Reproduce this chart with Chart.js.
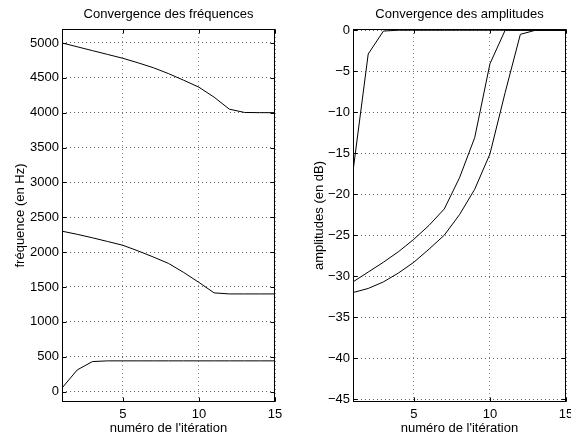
<!DOCTYPE html>
<html>
<head>
<meta charset="utf-8">
<script src="https://cdn.jsdelivr.net/npm/chart.js@4"></script>
<style>
  html, body { margin: 0; padding: 0; background: #fff; overflow: hidden; width: 571px; height: 440px; }
  #wrapL { position: absolute; left: 0; top: 0; width: 290px; height: 440px; }
  #wrapR { position: absolute; left: 290px; top: 0; width: 290px; height: 440px; }
</style>
</head>
<body>
<div id="wrapL"><canvas id="freqChart"></canvas></div>
<div id="wrapR"><canvas id="ampChart"></canvas></div>
<script>
// iterations 1..15
const iterations = [1, 2, 3, 4, 5, 6, 7, 8, 9, 10, 11, 12, 13, 14, 15];

// fréquences (Hz)
const freqHigh = [5000, 4945, 4890, 4835, 4780, 4715, 4645, 4560, 4465, 4365, 4222, 4050, 4003, 4000, 4000];
const freqMid  = [2300, 2255, 2205, 2152, 2098, 2017, 1930, 1838, 1708, 1565, 1415, 1400, 1400, 1400, 1400];
const freqLow  = [50, 310, 430, 440, 440, 440, 440, 440, 440, 440, 440, 440, 440, 440, 440];

// amplitudes (dB)
const ampFast = [-17.2, -2.9, -0.1, 0, 0, 0, 0, 0, 0, 0, 0, 0, 0, 0, 0];
const ampMid  = [-30.7, -29.5, -28.3, -27.0, -25.5, -23.8, -21.8, -18.0, -13.1, -4.1, 0, 0, 0, 0, 0];
const ampSlow = [-32.0, -31.5, -30.7, -29.6, -28.3, -26.7, -25.0, -22.5, -19.4, -15.1, -7.6, -0.5, 0, 0, 0];

const iterTicks = [5, 10, 15];
const freqTicks = [0, 500, 1000, 1500, 2000, 2500, 3000, 3500, 4000, 4500, 5000];
const ampTicks = [-45, -40, -35, -30, -25, -20, -15, -10, -5, 0];

Chart.defaults.font.family = '"Liberation Sans", Arial, Helvetica, sans-serif';
Chart.defaults.font.size = 13;
Chart.defaults.color = '#000';

// cadre + graduations vers l'intérieur (style matlab)
const boxPlugin = {
  id: 'box',
  afterDraw(chart) {
    const {ctx, chartArea: a, scales} = chart;
    const l = Math.round(a.left) + 0.5, r = Math.round(a.right) - 0.5;
    const t = Math.round(a.top) + 0.5, b = Math.round(a.bottom) - 0.5;
    ctx.save();
    ctx.strokeStyle = '#000';
    ctx.lineWidth = 1;
    ctx.strokeRect(l, t, r - l, b - t);
    ctx.beginPath();
    scales.x.ticks.forEach(tk => {
      const px = Math.round(scales.x.getPixelForValue(tk.value)) + 0.5;
      ctx.moveTo(px, b); ctx.lineTo(px, b - 4);
      ctx.moveTo(px, t); ctx.lineTo(px, t + 4);
    });
    scales.y.ticks.forEach(tk => {
      const py = Math.round(scales.y.getPixelForValue(tk.value)) + 0.5;
      ctx.moveTo(l, py); ctx.lineTo(l + 4, py);
      ctx.moveTo(r, py); ctx.lineTo(r - 4, py);
    });
    ctx.stroke();
    ctx.restore();
  }
};

function lineSet(data) {
  return {
    data: data,
    borderColor: '#000',
    borderWidth: 1,
    pointRadius: 0,
    tension: 0,
    fill: false
  };
}

function makeOptions(title, yTitle, yMin, yMax, yTicks, leftW, rightPad, yTitlePad) {
  return {
    responsive: true,
    maintainAspectRatio: false,
    animation: false,
    layout: { padding: { left: 0, right: rightPad, top: 0, bottom: 0 } },
    plugins: {
      legend: { display: false },
      tooltip: { enabled: false },
      title: {
        display: true,
        text: title,
        fullSize: false,
        font: { size: 13, weight: 'normal' },
        padding: { top: 7, bottom: 6.4 }
      }
    },
    scales: {
      x: {
        type: 'linear',
        min: 1,
        max: 15,
        afterBuildTicks: s => { s.ticks = iterTicks.map(v => ({ value: v })); },
        afterFit: s => { s.height = 38; },
        grid: { color: 'rgba(0,0,0,0.45)', drawTicks: false },
        border: { display: false, dash: [1, 3] },
        ticks: { padding: 5, maxRotation: 0 },
        title: { display: true, text: "numéro de l'itération", padding: { top: 0, bottom: 4 } }
      },
      y: {
        min: yMin,
        max: yMax,
        afterBuildTicks: s => { s.ticks = yTicks.map(v => ({ value: v })); },
        afterFit: s => { s.width = leftW; },
        grid: { color: 'rgba(0,0,0,0.6)', drawTicks: false },
        border: { display: false, dash: [1, 3] },
        ticks: { padding: 3, callback: v => String(v).replace('-', '\u2212') },
        title: { display: true, text: yTitle, padding: { top: yTitlePad, bottom: 0 } }
      }
    }
  };
}

new Chart(document.getElementById('freqChart'), {
  type: 'line',
  data: {
    labels: iterations,
    datasets: [lineSet(freqHigh), lineSet(freqMid), lineSet(freqLow)]
  },
  options: makeOptions('Convergence des fréquences', 'fréquence (en Hz)', -150, 5200, freqTicks, 62, 15, 13),
  plugins: [boxPlugin]
});

new Chart(document.getElementById('ampChart'), {
  type: 'line',
  data: {
    labels: iterations,
    datasets: [lineSet(ampFast), lineSet(ampMid), lineSet(ampSlow)]
  },
  options: makeOptions('Convergence des amplitudes', 'amplitudes (en dB)', -45.35, 0.15, ampTicks, 63, 14, 22),
  plugins: [boxPlugin]
});
</script>
</body>
</html>
